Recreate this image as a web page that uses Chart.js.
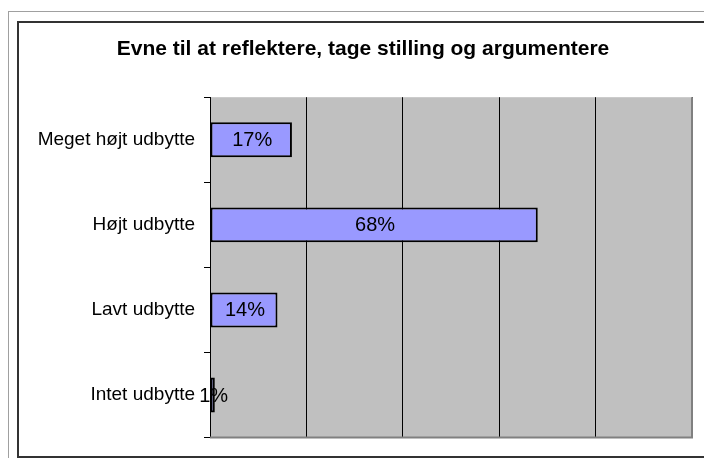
<!DOCTYPE html>
<html lang="da">
<head>
<meta charset="utf-8">
<title>Evne til at reflektere, tage stilling og argumentere</title>
<script src="https://cdn.jsdelivr.net/npm/chart.js@4.4.1/dist/chart.umd.min.js"></script>
<style>
  html, body { margin: 0; padding: 0; background: #fff; overflow: hidden; }
  #ramme { position: relative; width: 704px; height: 458px; }
  /* de to rammer rundt om diagrammet */
  #ydre { position: absolute; left: 8px; top: 11px; width: 720px; height: 470px; border-left: 1px solid #a0a0a0; border-top: 1px solid #a0a0a0; }
  #indre { position: absolute; left: 17px; top: 21px; width: 720px; height: 433px; border: 2px solid #333; }
  canvas { position: absolute; left: 0; top: 0; }
</style>
</head>
<body>
<div id="ramme">
  <div id="ydre"></div>
  <div id="indre"></div>
  <canvas id="udbytteChart" width="704" height="458"></canvas>
</div>
<script>
// Data
const kategorier = ["Meget højt udbytte", "Højt udbytte", "Lavt udbytte", "Intet udbytte"];
const andele = [17, 68, 14, 1];
const gitterTrin = [0, 20, 40, 60, 80, 100];
const titel = "Evne til at reflektere, tage stilling og argumentere";

const FONT = "'Liberation Sans', Arial, sans-serif";

// Grå baggrund i plotområdet
const plotBaggrund = {
  id: 'plotBaggrund',
  beforeDraw(chart) {
    const { ctx, chartArea: a } = chart;
    ctx.save();
    ctx.fillStyle = '#c0c0c0';
    ctx.fillRect(a.left, a.top, a.right - a.left, a.bottom - a.top);
    ctx.restore();
  }
};

// Grå kant til højre og forneden + procenttal midt i søjlerne
const kantOgEtiketter = {
  id: 'kantOgEtiketter',
  afterDatasetsDraw(chart) {
    const { ctx, chartArea: a } = chart;
    ctx.save();
    ctx.strokeStyle = '#808080';
    ctx.lineWidth = 2;
    ctx.beginPath();
    ctx.moveTo(a.right, a.top);
    ctx.lineTo(a.right, a.bottom);
    ctx.lineTo(a.left, a.bottom);
    ctx.stroke();

    ctx.font = '20px ' + FONT;
    ctx.fillStyle = '#000';
    ctx.textAlign = 'center';
    ctx.textBaseline = 'middle';
    chart.getDatasetMeta(0).data.forEach((bar, i) => {
      ctx.fillText(andele[i] + '%', (bar.x + bar.base) / 2 + 1, bar.y + 1);
    });
    ctx.restore();
  }
};

new Chart(document.getElementById('udbytteChart'), {
  type: 'bar',
  data: {
    labels: kategorier,
    datasets: [{
      data: andele,
      backgroundColor: '#9999ff',
      borderColor: '#000',
      borderWidth: 2,
      borderSkipped: false,
      barPercentage: 0.41,
      categoryPercentage: 1
    }]
  },
  options: {
    indexAxis: 'y',
    responsive: false,
    animation: false,
    layout: { padding: { left: 34, right: 12, top: 0, bottom: 19 } },
    plugins: {
      legend: { display: false },
      tooltip: { enabled: false },
      title: {
        display: true,
        text: titel,
        color: '#000',
        font: { family: FONT, size: 21, weight: 'bold' },
        padding: { top: 37, bottom: 35 }
      }
    },
    scales: {
      x: {
        min: gitterTrin[0],
        max: gitterTrin[gitterTrin.length - 1],
        afterBuildTicks(scale) { scale.ticks = gitterTrin.map(v => ({ value: v })); },
        afterFit(scale) { scale.height = 0; },
        ticks: { display: false },
        grid: { color: '#000', lineWidth: 1, drawTicks: false },
        border: { display: false }
      },
      y: {
        afterFit(scale) { scale.width = 176; },
        ticks: { color: '#000', padding: 9, font: { family: FONT, size: 19 } },
        grid: { drawOnChartArea: false, color: '#000', tickLength: 6 },
        border: { color: '#000', width: 1 }
      }
    }
  },
  plugins: [plotBaggrund, kantOgEtiketter]
});
</script>
</body>
</html>
